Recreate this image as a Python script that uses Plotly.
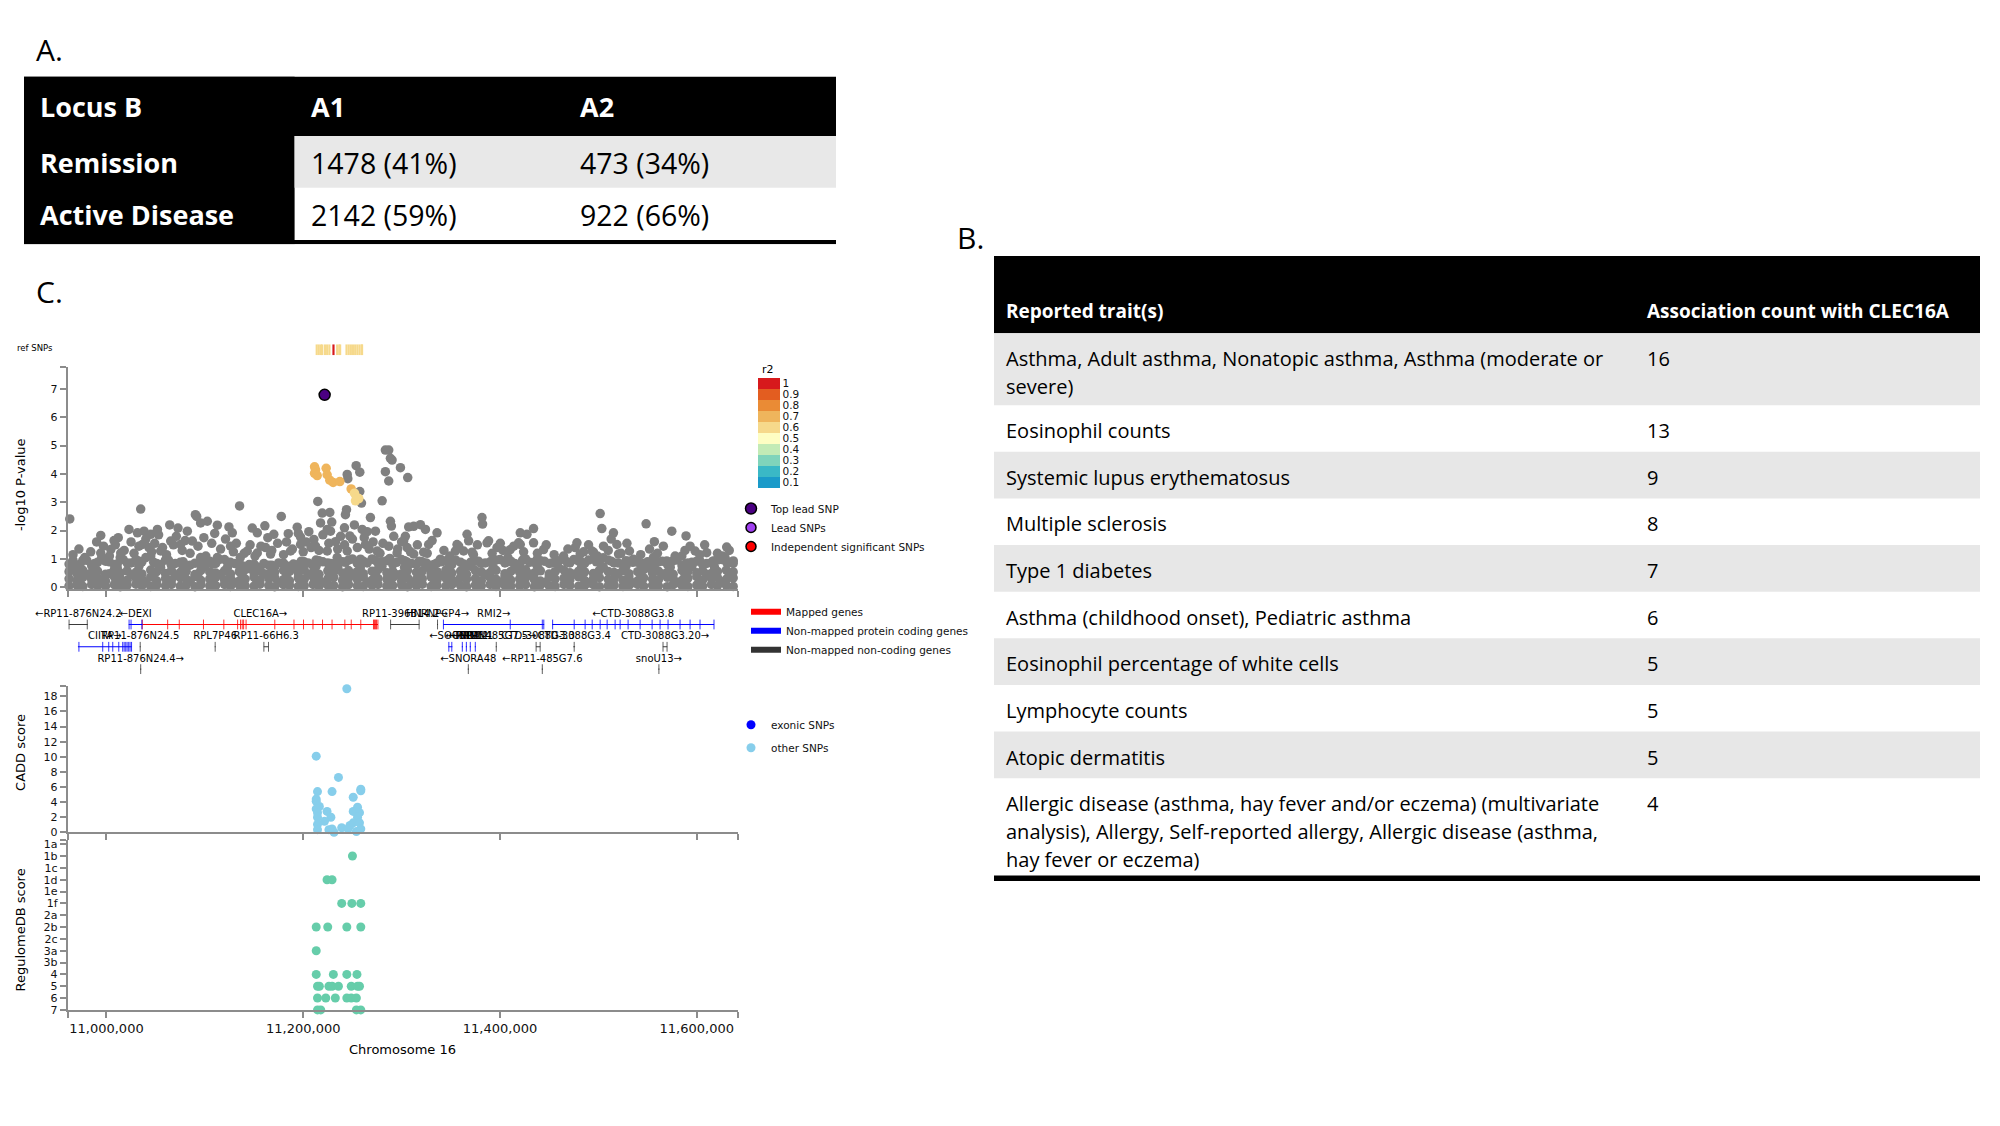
import plotly.graph_objects as go

W, H = 2000, 1126

# ---------------- Panel A table ----------------
tA_header = ["Locus B", "A1", "A2"]
tA_rowlab = ["Remission", "Active Disease"]
tA_a1 = ["1478 (41%)", "2142 (59%)"]
tA_a2 = ["473 (34%)", "922 (66%)"]

# ---------------- Panel B table ----------------
tB_header = ["Reported trait(s)", "Association count with CLEC16A"]
tB_traits = [
    "Asthma, Adult asthma, Nonatopic asthma, Asthma (moderate or<br>severe)",
    "Eosinophil counts",
    "Systemic lupus erythematosus",
    "Multiple sclerosis",
    "Type 1 diabetes",
    "Asthma (childhood onset), Pediatric asthma",
    "Eosinophil percentage of white cells",
    "Lymphocyte counts",
    "Atopic dermatitis",
    "Allergic disease (asthma, hay fever and/or eczema) (multivariate<br>analysis), Allergy, Self-reported allergy, Allergic disease (asthma,<br>hay fever or eczema)",
]
tB_counts = [16, 13, 9, 8, 7, 6, 5, 5, 5, 4]

# ---------------- Panel C: regional plot (positions in kb on chr16) ----------------
band_kb = [10962, 10970, 10976, 10985, 10991, 10999, 11008, 11014, 11021, 11030,
           11036, 11045, 11051, 11060, 11066, 11075, 11081, 11090, 11096, 11105,
           11111, 11120, 11126, 11135, 11141, 11150, 11156, 11165, 11171, 11180,
           11186, 11195, 11201, 11210, 11216, 11225, 11231, 11240, 11246, 11255,
           11261, 11270, 11276, 11285, 11291, 11300, 11306, 11315, 11321, 11330,
           11336, 11345, 11351, 11360, 11366, 11375, 11381, 11390, 11396, 11405,
           11411, 11420, 11426, 11435, 11441, 11450, 11456, 11465, 11471, 11480,
           11486, 11495, 11501, 11510, 11516, 11525, 11531, 11540, 11546, 11555,
           11561, 11570, 11576, 11585, 11591, 11600, 11606, 11615, 11621, 11630,
           11637]
band_low = [0.05, 0.08, 0.03, 0.10, 0.06, 0.04, 0.09, 0.02, 0.07, 0.11,
            0.05, 0.03, 0.08, 0.06, 0.10, 0.04, 0.07, 0.02, 0.09, 0.05,
            0.06, 0.10, 0.03, 0.08, 0.05, 0.04, 0.11, 0.06, 0.02, 0.09,
            0.07, 0.03, 0.05, 0.10, 0.04, 0.08, 0.06, 0.02, 0.09, 0.05,
            0.03, 0.07, 0.10, 0.04, 0.06, 0.08, 0.02, 0.05, 0.11, 0.03,
            0.07, 0.04, 0.09, 0.06, 0.02, 0.08, 0.05, 0.10, 0.03, 0.07,
            0.04, 0.06, 0.09, 0.02, 0.08, 0.05, 0.03, 0.10, 0.06, 0.04,
            0.07, 0.09, 0.02, 0.05, 0.08, 0.03, 0.06, 0.10, 0.04, 0.07,
            0.05, 0.02, 0.09, 0.06, 0.03, 0.08, 0.04, 0.10, 0.05, 0.07,
            0.03]
band_mid1 = [0.30, 0.24, 0.35, 0.27, 0.32, 0.22, 0.37, 0.29, 0.25, 0.33,
             0.28, 0.36, 0.23, 0.31, 0.26, 0.34, 0.29, 0.38, 0.24, 0.30,
             0.35, 0.27, 0.32, 0.22, 0.29, 0.36, 0.25, 0.31, 0.34, 0.27,
             0.23, 0.33, 0.28, 0.37, 0.26, 0.30, 0.35, 0.24, 0.32, 0.28,
             0.36, 0.25, 0.31, 0.29, 0.34, 0.22, 0.33, 0.27, 0.30, 0.37,
             0.26, 0.32, 0.24, 0.35, 0.29, 0.31, 0.23, 0.34, 0.28, 0.36,
             0.25, 0.30, 0.33, 0.27, 0.22, 0.35, 0.29, 0.32, 0.26, 0.37,
             0.24, 0.31, 0.34, 0.28, 0.30, 0.25, 0.36, 0.23, 0.33, 0.29,
             0.27, 0.35, 0.31, 0.24, 0.32, 0.38, 0.26, 0.30, 0.34, 0.28,
             0.33]
band_mid2 = [0.55, 0.48, 0.60, 0.52, 0.57, 0.46, 0.62, 0.50, 0.58, 0.53,
             0.47, 0.61, 0.55, 0.49, 0.59, 0.52, 0.56, 0.45, 0.60, 0.54,
             0.50, 0.58, 0.47, 0.55, 0.62, 0.51, 0.57, 0.48, 0.53, 0.60,
             0.56, 0.49, 0.61, 0.52, 0.46, 0.58, 0.54, 0.50, 0.59, 0.55,
             0.48, 0.57, 0.62, 0.51, 0.56, 0.47, 0.60, 0.53, 0.58, 0.49,
             0.55, 0.61, 0.50, 0.57, 0.46, 0.59, 0.54, 0.52, 0.60, 0.48,
             0.56, 0.53, 0.62, 0.50, 0.58, 0.47, 0.55, 0.61, 0.51, 0.57,
             0.54, 0.49, 0.60, 0.56, 0.52, 0.59, 0.48, 0.55, 0.62, 0.50,
             0.57, 0.53, 0.46, 0.60, 0.55, 0.51, 0.58, 0.49, 0.56, 0.61,
             0.54]
band_top = [0.82, 0.70, 0.95, 0.76, 0.88,
            0.92, 0.80, 1.05, 0.86, 0.98, 0.90, 1.10, 0.84, 0.96,
            0.78, 0.88, 0.72, 0.85, 0.80,
            0.92, 0.84, 0.98, 0.88, 0.76,
            0.70, 0.82, 0.66, 0.78, 0.72, 0.85, 0.74,
            0.80, 0.90, 0.76, 0.94, 0.86, 0.82, 0.90,
            0.96, 0.84, 0.92, 1.00, 0.86, 0.94, 0.80, 0.98, 0.88, 0.82,
            0.90, 0.78, 0.86, 0.94, 0.80, 0.88, 0.76, 0.92, 0.84, 0.90,
            0.96, 0.86, 0.92, 0.82, 1.00, 0.88, 0.94, 0.84, 0.90, 0.98, 0.86,
            0.92, 0.84, 1.02, 0.90, 0.96, 0.86, 0.80, 0.92, 0.88, 0.84,
            0.78, 0.90, 0.82, 0.94, 0.76, 0.86, 0.92, 0.80, 0.88,
            0.96, 0.90, 0.84]
band2_kb = [10966, 10973, 10980, 10988, 10995, 11003, 11011, 11017, 11025, 11033,
            11040, 11048, 11055, 11063, 11070, 11078, 11085, 11093, 11100, 11108,
            11115, 11123, 11130, 11138, 11145, 11153, 11160, 11168, 11175, 11183,
            11190, 11198, 11205, 11213, 11220, 11228, 11235, 11243, 11250, 11258,
            11265, 11273, 11280, 11288, 11295, 11303, 11310, 11318, 11325, 11333,
            11340, 11348, 11355, 11363, 11370, 11378, 11385, 11393, 11400, 11408,
            11415, 11423, 11430, 11438, 11445, 11453, 11460, 11468, 11475, 11483,
            11490, 11498, 11505, 11513, 11520, 11528, 11535, 11543, 11550, 11558,
            11565, 11573, 11580, 11588, 11595, 11603, 11610, 11618, 11625, 11633]
band2_p = [0.70, 0.18, 0.45, 0.72, 0.20, 0.48, 0.68, 0.16, 0.44, 0.74,
           0.19, 0.46, 0.71, 0.17, 0.43, 0.69, 0.21, 0.47, 0.73, 0.15,
           0.45, 0.70, 0.18, 0.42, 0.66, 0.20, 0.48, 0.72, 0.17, 0.44,
           0.70, 0.19, 0.46, 0.74, 0.16, 0.43, 0.71, 0.20, 0.47, 0.68,
           0.18, 0.45, 0.73, 0.15, 0.44, 0.70, 0.19, 0.48, 0.72, 0.17,
           0.42, 0.69, 0.21, 0.46, 0.74, 0.16, 0.45, 0.70, 0.18, 0.43,
           0.71, 0.20, 0.47, 0.73, 0.17, 0.44, 0.68, 0.19, 0.46, 0.72,
           0.15, 0.45, 0.70, 0.18, 0.48, 0.74, 0.16, 0.43, 0.69, 0.20,
           0.47, 0.71, 0.17, 0.44, 0.73, 0.19, 0.46, 0.70, 0.18, 0.45]
band2_top = [0.88, 0.80, 0.95, 0.84, 1.02, 0.90, 0.82, 0.98, 0.86, 0.92,
             1.05, 0.88, 0.80, 0.96, 0.84, 0.90, 0.78, 0.86, 0.94, 0.82,
             0.98, 0.88, 0.84, 0.76, 0.80, 0.72, 0.84, 0.78, 0.86, 0.74,
             0.82, 0.92, 0.86, 0.96, 0.90, 0.84, 0.94, 0.88, 1.00, 0.92,
             0.86, 0.96, 0.90, 1.02, 0.88, 0.94, 0.84, 0.92, 0.86, 0.80,
             0.90, 0.84, 0.96, 0.82, 0.88, 0.92, 0.86, 0.94, 0.98, 0.90,
             0.84, 0.96, 0.88, 1.00, 0.92, 0.86, 0.94, 0.90, 0.98, 0.88,
             0.96, 0.90, 1.04, 0.92, 0.86, 0.94, 0.88, 0.82, 0.90, 0.84,
             0.92, 0.86, 0.96, 0.80, 0.88, 0.94, 0.84, 0.92, 0.98, 0.88]
upper_kb = [10994.2, 11004.4, 11014.5, 11036.5, 11043.2, 11055.1, 11065.3, 11075.4, 11087.3, 11095.7,
            11112.7, 11126.2, 11143.1, 11153.3, 11161.7, 11166.8, 11187.1, 11197.3, 11210.8, 11212.5,
            11224.4, 11234.5, 11244.7, 11258.2, 11275.1, 11286.9, 11295.4, 11305.6, 11312.3, 11322.4,
            11339.4, 11354.6, 11371.6, 11386.8, 11397.0, 11410.4, 11420.6, 11434.1, 11444.3, 11464.6,
            11481.5, 11495.0, 11505.2, 11518.8, 11520.5, 11535.6, 11555.9, 11569.5, 11584.8, 11593.2,
            11598.3, 11616.8, 11628.7, 11637.1, 10966.0,
            10966, 10972, 10978, 10984, 10990, 10997, 11003, 11009, 11012, 11018,
            11025, 11028, 11033, 11040, 11046, 11049, 11053, 11057, 11061, 11068,
            11071, 11077, 11080, 11085, 11093, 11099, 11101, 11107, 11110, 11116,
            11121, 11129, 11132, 11136, 11140, 11146, 11151, 11157, 11164, 11168,
            11174, 11180, 11183, 11189, 11195, 11200, 11203, 11208, 11216, 11220,
            11226, 11229, 11235, 11238, 11242, 11250, 11252, 11255, 11262, 11267,
            11271, 11278, 11281, 11292, 11296, 11300, 11309, 11316, 11326, 11331,
            11343, 11349, 11358, 11373, 11377, 11392, 11403, 11408, 11414, 11424,
            11438, 11447, 11455, 11469, 11485, 11490, 11499, 11510, 11513, 11523,
            11529, 11543, 11552, 11560, 11566, 11578, 11588, 11603, 11608, 11621,
            11633, 11626]
upper_p = [1.21, 1.33, 1.21, 1.51, 1.40, 1.28, 1.63, 1.51, 1.63, 1.05,
           1.05, 1.45, 1.28, 1.21, 1.40, 1.17, 1.28, 1.51, 1.69, 1.45,
           1.28, 1.05, 1.28, 0.99, 1.28, 1.45, 1.21, 1.40, 1.17, 1.24,
           0.99, 1.28, 1.24, 1.57, 1.40, 1.33, 1.51, 1.57, 1.33, 1.10,
           1.17, 1.24, 1.45, 1.51, 1.17, 0.99, 1.05, 0.93, 1.10, 1.45,
           1.28, 0.93, 1.05, 0.93, 0.95,
           1.15, 1.35, 1.05, 1.25, 1.60, 1.45, 1.10, 1.50, 1.75, 1.30,
           1.60, 1.20, 1.45, 1.70, 1.25, 1.55, 1.85, 1.40, 1.15, 1.50,
           1.80, 1.30, 1.65, 1.20, 1.45, 1.75, 1.10, 1.55, 1.90, 1.35,
           1.70, 1.25, 1.55, 1.05, 1.20, 1.50, 1.10, 1.45, 1.75, 1.30,
           1.55, 1.15, 1.60, 1.35, 1.90, 1.25, 1.60, 1.40, 1.30, 1.85,
           1.55, 2.30, 1.35, 1.80, 1.50, 1.70, 2.20, 1.40, 1.75, 1.35,
           1.60, 1.20, 1.55, 1.80, 1.35, 1.60, 1.25, 1.50, 1.20, 1.65,
           1.30, 1.10, 1.45, 1.15, 1.50, 1.20, 1.30, 1.05, 1.45, 1.25,
           1.20, 1.50, 1.15, 1.35, 1.25, 1.50, 1.10, 1.30, 1.70, 1.20,
           1.55, 1.15, 1.35, 1.20, 1.45, 1.10, 1.30, 1.15, 1.50, 1.20,
           1.30, 1.10]
scat_kb = [10962.7, 11034.8, 11135.3, 11090.4, 11091.7, 10994.2, 11007.7, 11022.9, 11031.5, 11038.2,
           11045.0, 11051.8, 11064.3, 11072.7, 11082.2, 11095.7, 11102.5, 11112.7, 11124.5, 11127.9,
           11148.2, 11153.3, 11161.0, 11170.1, 11177.7, 11184.8, 11193.9, 11197.3, 11205.7, 11214.8,
           11219.3, 11227.0, 11217.6, 11224.4, 11227.7, 11244.7, 11245.3, 11253.8, 11257.5, 11257.5,
           11259.2, 11244.0, 11242.9, 11241.9, 11247.3, 11232.8, 11268.3, 11280.2, 11283.5, 11286.9,
           11288.6, 11290.3, 11283.5, 11286.9, 11298.8, 11306.2, 11288.6, 11289.6, 11259.9, 11265.0,
           11273.4, 11263.2, 11307.2, 11302.1, 11319.1, 11312.3, 11324.2, 11303.8, 11336.0, 11327.5,
           11381.7, 11382.3, 11366.5, 11368.1, 11420.6, 11427.4, 11434.1, 11418.9, 11501.8, 11503.5,
           11515.3, 11531.6, 11548.5, 11556.9, 11574.6, 11589.1, 11630.4, 11388.4, 11400.3, 11478.2,
           11476.4, 11356.3, 11363.0, 11493.4, 11610.1]
scat_p = [2.41, 2.76, 2.87, 2.56, 2.50, 1.83, 1.65, 2.04, 1.92, 1.98,
          1.87, 2.04, 2.20, 2.09, 1.98, 2.27, 2.33, 2.19, 2.13, 1.92,
          2.09, 1.92, 2.17, 1.87, 2.50, 1.89, 2.12, 1.77, 1.96, 3.03,
          2.62, 2.64, 2.27, 2.04, 1.98, 3.98, 3.83, 4.29, 4.06, 3.38,
          2.97, 2.74, 2.56, 2.10, 1.81, 1.61, 2.46, 3.05, 4.84, 4.84,
          4.55, 4.49, 4.08, 3.75, 4.22, 3.87, 2.33, 2.16, 2.04, 1.96,
          1.98, 1.51, 2.13, 1.64, 2.21, 2.15, 2.04, 1.80, 1.92, 1.51,
          2.46, 2.23, 1.87, 1.64, 1.92, 1.87, 2.07, 1.57, 2.60, 2.07,
          1.92, 1.28, 2.24, 1.61, 1.98, 1.81, 1.42, 1.64, 1.55, 1.57,
          1.40, 1.51, 1.28, 1.28, 1.22]
ld_kb = [11211.5, 11212.5, 11211.5, 11214.2, 11223.3, 11224.3, 11227.0, 11230.4, 11237.2, 11248.7,
         11252.1, 11254.1, 11253.1, 11256.5]
ld_p = [4.25, 4.14, 4.02, 3.94, 4.20, 3.97, 3.78, 3.70, 3.73, 3.47, 3.32, 3.17, 3.05, 3.13]
ld_r2 = [0.66, 0.67, 0.66, 0.68, 0.70, 0.69, 0.71, 0.70, 0.69, 0.66, 0.64, 0.63, 0.62, 0.64]
lead_kb = [11221.75]
lead_p = [6.79]

r2_levels = [0.1, 0.2, 0.3, 0.4, 0.5, 0.6, 0.7, 0.8, 0.9, 1.0]
r2_labels = ["0.1", "0.2", "0.3", "0.4", "0.5", "0.6", "0.7", "0.8", "0.9", "1"]
r2_colors = ["#1a9ac9", "#3ab8c6", "#80d4bb", "#c3ebb6", "#fefec3",
             "#f6d98b", "#efb55c", "#ea8b35", "#e35d20", "#d7191c"]

ref_kb = [11213.7, 11215.8, 11218.0, 11219.3, 11222.1, 11224.3, 11226.6, 11230.75, 11234.5, 11236.6,
          11237.5, 11244.0, 11246.2, 11248.4, 11250.6, 11252.8, 11255.0, 11257.2, 11259.4, 11259.8]
ref_r2 = [0.6, 0.6, 0.6, 0.6, 0.6, 0.6, 0.6, 1.0, 0.6, 0.6,
          0.6, 0.6, 0.6, 0.6, 0.6, 0.6, 0.6, 0.6, 0.6, 0.6]

cadd_kb = [11244.3, 11213.2, 11235.8, 11214.5, 11229.3, 11258.5, 11258.5, 11250.8, 11213.2, 11213.2,
           11216.4, 11255.2, 11213.2, 11214.5, 11250.8, 11257.2, 11224.2, 11228.1, 11214.5, 11221.6,
           11255.2, 11250.8, 11257.2, 11247.5, 11214.5, 11239.1, 11229.3, 11231.3, 11245.6, 11214.5,
           11254.0, 11258.5, 11226.1]
cadd_score = [19.0, 10.08, 7.27, 5.39, 5.39, 5.5, 5.7, 4.64, 4.4, 4.1,
              3.42, 3.33, 3.1, 2.6, 2.77, 2.6, 2.77, 2.0, 2.0, 1.45,
              2.0, 1.25, 1.25, 0.9, 1.05, 0.6, 0.45, 0.0, 0.45, 0.35,
              0.1, 0.45, 0.35]

reg_levels = ["1a", "1b", "1c", "1d", "1e", "1f", "2a", "2b", "2c", "3a", "3b", "4", "5", "6", "7"]
reg_kb = [11250.0, 11224.2, 11229.3, 11239.1, 11249.4, 11258.5, 11213.2, 11224.9, 11244.3, 11258.5,
          11213.2, 11213.2, 11230.6, 11244.3, 11254.6, 11214.5, 11216.4, 11226.1, 11229.3, 11235.8,
          11248.8, 11255.2, 11257.2, 11214.5, 11222.9, 11232.6, 11244.3, 11248.8, 11254.0, 11214.5,
          11217.8, 11254.0, 11258.5]
reg_cat = ["1b", "1d", "1d", "1f", "1f", "1f", "2b", "2b", "2b", "2b",
           "3a", "4", "4", "4", "4", "5", "5", "5", "5", "5",
           "5", "5", "5", "6", "6", "6", "6", "6", "6", "7",
           "7", "7", "7"]

# genes
gene_name = ["RP11-876N24.2", "DEXI", "CLEC16A", "RP11-396B14.2", "HNRNPCP4", "RMI2", "CTD-3088G3.8",
             "CIITA", "RP11-876N24.5", "RPL7P46", "RP11-66H6.3", "SOCS1", "TNP2", "PRM3", "PRM2", "PRM1",
             "RP11-485G7.5", "CTD-3088G3.3", "CTD-3088G3.4", "CTD-3088G3.20",
             "RP11-876N24.4", "SNORA48", "RP11-485G7.6", "snoU13"]
gene_start = [10961.7, 11022.6, 11036.8, 11288.6, 11336.0, 11342.4, 11453.1,
              10971.0, 11033.8, 11110.0, 11159.8, 11347.5, 11361.2, 11365.3, 11369.3, 11374.4,
              11395.7, 11436.5, 11474.5, 11565.5,
              11034.3, 11367.3, 11442.5, 11561.0]
gene_end = [10981.0, 11036.8, 11276.0, 11318.1, 11337.0, 11444.9, 11617.6,
            11025.7, 11034.8, 11111.0, 11164.9, 11351.6, 11362.2, 11366.3, 11370.3, 11375.4,
            11396.7, 11441.0, 11476.3, 11570.0,
            11035.3, 11368.3, 11443.5, 11562.0]
gene_row = [0, 0, 0, 0, 0, 0, 0,
            1, 1, 1, 1, 1, 1, 1, 1, 1, 1, 1, 1, 1,
            2, 2, 2, 2]
gene_kind = ["nc", "pc", "mapped", "nc", "nc", "pc", "pc",
             "pc", "nc", "nc", "nc", "pc", "pc", "pc", "pc", "pc", "nc", "nc", "nc", "nc",
             "nc", "nc", "nc", "nc"]
gene_strand = ["-", "-", "+", "+", "+", "+", "-",
               "+", "", "", "", "-", "-", "-", "-", "-", "+", "", "", "+",
               "+", "-", "-", "+"]
gene_exons = [
    [10962.0, 10980.5],
    [11023.0, 11025.0, 11036.0],
    [11036.4, 11062.2, 11074.0, 11098.6, 11119.3, 11133.3, 11136.3, 11138.0, 11139.4, 11141.9,
     11171.1, 11190.6, 11200.3, 11209.9, 11219.6, 11229.3, 11242.3, 11248.8, 11258.5,
     11271.4, 11272.4, 11273.4, 11274.5, 11275.9],
    [11288.8, 11317.8],
    [11336.5],
    [11342.5, 11410.4, 11443.0, 11444.5],
    [11453.5, 11475.4, 11486.5, 11493.7, 11501.8, 11508.9, 11517.0, 11522.1, 11530.2, 11542.4,
     11554.6, 11562.7, 11570.8, 11583.0, 11593.2, 11603.3, 11617.5],
    [10972.0, 10996.2, 11002.3, 11006.4, 11012.5, 11016.5, 11018.0, 11019.6, 11021.0, 11022.6,
     11024.0, 11025.5],
    [11034.3],
    [11110.5],
    [11160.0, 11164.7],
    [11348.0, 11351.0],
    [11361.7],
    [11365.8],
    [11369.8],
    [11374.9],
    [11396.2],
    [11436.7, 11440.8],
    [11475.4],
    [11565.7, 11569.8],
    [11034.8],
    [11367.8],
    [11443.0],
    [11561.5],
]

# ---------------- geometry helpers (layout only) ----------------
def xd(a, b):
    return [a / W, b / W]


def yd(top, bot):
    return [1 - bot / H, 1 - top / H]


X0, X1 = 10960400, 11641900
XT = [X0, 11000000, 11200000, 11400000, 11600000, X1]
GRAY_AX = "#8c8c8c"
FONT = "DejaVu Sans"
TFONT = "Open Sans"


def bp(lst):
    return [v * 1000 for v in lst]


axis_style = dict(showline=True, linecolor=GRAY_AX, linewidth=1.5, ticks="outside", ticklen=6,
                  tickcolor=GRAY_AX, tickwidth=1.5, showgrid=False, zeroline=False,
                  tickfont=dict(family=FONT, size=11, color="#111"))

fig = go.Figure()

# discrete r2 colour scale
cs = []
for i, c in enumerate(r2_colors):
    cs.append([i / 10, c])
    cs.append([(i + 1) / 10, c])

# ---- Manhattan ----
gray_x = bp(band_kb * 4 + band2_kb * 2 + upper_kb + scat_kb)
gray_y = band_low + band_mid1 + band_mid2 + band_top + band2_p + band2_top + upper_p + scat_p
fig.add_trace(go.Scatter(x=gray_x, y=gray_y, mode="markers", xaxis="x", yaxis="y",
                         marker=dict(size=9.5, color="#808080"), showlegend=False,
                         cliponaxis=False, hoverinfo="skip"))
fig.add_trace(go.Scatter(
    x=bp(ld_kb), y=ld_p, mode="markers", xaxis="x", yaxis="y", showlegend=False, cliponaxis=False,
    marker=dict(size=9.5, color=ld_r2, colorscale=cs, cmin=0.05, cmax=1.05,
                colorbar=dict(x=758 / W, xanchor="left", y=1 - 379 / H, yanchor="top",
                              len=111 / H, lenmode="fraction", thickness=22, thicknessmode="pixels",
                              xpad=0, ypad=0, outlinewidth=0, ticks="",
                              tickvals=r2_levels, ticktext=r2_labels,
                              tickfont=dict(family=FONT, size=10.5, color="#111")))))
fig.add_trace(go.Scatter(x=bp(lead_kb), y=lead_p, mode="markers", xaxis="x", yaxis="y",
                         name="Top lead SNP", legend="legend", cliponaxis=False,
                         marker=dict(size=11, color="#4b0082", line=dict(color="#000", width=1.5))))
fig.add_trace(go.Scatter(x=[None], y=[None], mode="markers", xaxis="x", yaxis="y",
                         name="Lead SNPs", legend="legend",
                         marker=dict(size=10, color="#a040f0", line=dict(color="#000", width=1.5))))
fig.add_trace(go.Scatter(x=[None], y=[None], mode="markers", xaxis="x", yaxis="y",
                         name="Independent significant SNPs", legend="legend",
                         marker=dict(size=10, color="#ff0000", line=dict(color="#000", width=1.5))))

# ---- ref SNP track ----
fig.add_trace(go.Bar(x=bp(ref_kb), y=[1] * len(ref_kb), width=2200, xaxis="x2", yaxis="y2",
                     marker=dict(color=ref_r2, colorscale=cs, cmin=0.05, cmax=1.05, line=dict(width=0)),
                     showlegend=False, hoverinfo="skip"))

# ---- gene track ----
kind_color = {"mapped": "#ff0000", "pc": "#0000ff", "nc": "#3a3a3a"}
kind_name = {"mapped": "Mapped genes", "pc": "Non-mapped protein coding genes", "nc": "Non-mapped non-coding genes"}
for kind in ["mapped", "pc", "nc"]:
    lx, ly, ex, ey = [], [], [], []
    for i in range(len(gene_name)):
        if gene_kind[i] != kind:
            continue
        lx += [gene_start[i] * 1000, gene_end[i] * 1000, None]
        ly += [gene_row[i], gene_row[i], None]
        for e in gene_exons[i]:
            ex.append(e * 1000)
            ey.append(gene_row[i])
    fig.add_trace(go.Scatter(x=lx, y=ly, mode="lines", xaxis="x3", yaxis="y3",
                             line=dict(color=kind_color[kind], width=1.1), showlegend=False, hoverinfo="skip"))
    fig.add_trace(go.Scatter(x=ex, y=ey, mode="markers", xaxis="x3", yaxis="y3", showlegend=False,
                             marker=dict(symbol="line-ns", size=7, opacity=0.8,
                                         line=dict(color=kind_color[kind], width=1)),
                             hoverinfo="skip"))
labels = []
for i in range(len(gene_name)):
    if gene_strand[i] == "+":
        labels.append(gene_name[i] + "→")
    elif gene_strand[i] == "-":
        labels.append("←" + gene_name[i])
    else:
        labels.append(gene_name[i])
fig.add_trace(go.Scatter(x=[(s + e) * 500 for s, e in zip(gene_start, gene_end)],
                         y=[r - 0.45 for r in gene_row], mode="text", text=labels,
                         textposition="middle center", xaxis="x3", yaxis="y3", showlegend=False,
                         textfont=dict(family=FONT, size=10, color="#000"), cliponaxis=False, hoverinfo="skip"))
for kind in ["mapped", "pc", "nc"]:
    fig.add_trace(go.Scatter(x=[None], y=[None], mode="lines", xaxis="x3", yaxis="y3",
                             name=kind_name[kind], legend="legend2",
                             line=dict(color=kind_color[kind] if kind != "nc" else "#333333", width=6)))

# ---- CADD ----
fig.add_trace(go.Scatter(x=[None], y=[None], mode="markers", xaxis="x4", yaxis="y4",
                         name="exonic SNPs", legend="legend3", legendgroup="ex",
                         marker=dict(size=9, color="#0000ff")))
fig.add_trace(go.Scatter(x=bp(cadd_kb), y=cadd_score, mode="markers", xaxis="x4", yaxis="y4",
                         name="other SNPs", legend="legend3", legendgroup="oth", cliponaxis=False,
                         marker=dict(size=9, color="#87ceeb")))

# ---- RegulomeDB ----
fig.add_trace(go.Scatter(x=bp(reg_kb), y=[reg_levels.index(c) for c in reg_cat], mode="markers",
                         xaxis="x5", yaxis="y5", showlegend=False, cliponaxis=False,
                         marker=dict(size=9, color="#66cdaa")))

# ---------------- tables (drawn on their own pixel-unit axes) ----------------
shapes = []
ann = []

# Table A
tA_colx = [0, 270.6, 812]
tA_textx = [15.5, 286.6, 556.4]
tA_rowh = [60, 52.3, 52.7]
tA_line = 4.3
tA_tot = sum(tA_rowh) + tA_line
shapes.append(dict(type="rect", xref="x6", yref="y6", x0=0, x1=812, y0=0, y1=tA_rowh[0],
                   fillcolor="#000", line=dict(width=0)))
shapes.append(dict(type="rect", xref="x6", yref="y6", x0=0, x1=tA_colx[1], y0=0, y1=tA_tot,
                   fillcolor="#000", line=dict(width=0)))
shapes.append(dict(type="rect", xref="x6", yref="y6", x0=tA_colx[1], x1=812, y0=tA_rowh[0],
                   y1=tA_rowh[0] + tA_rowh[1], fillcolor="#e8e8e8", line=dict(width=0)))
shapes.append(dict(type="rect", xref="x6", yref="y6", x0=0, x1=812, y0=tA_tot - tA_line, y1=tA_tot,
                   fillcolor="#000", line=dict(width=0)))
for j, t in enumerate(tA_header):
    ann.append(dict(xref="x6", yref="y6", x=tA_textx[j] - 2, y=tA_rowh[0] / 2 + 0.5, text="<b>%s</b>" % t,
                    showarrow=False, xanchor="left", yanchor="middle",
                    font=dict(family=TFONT, size=27, color="#fff")))
ytop = tA_rowh[0]
for i in range(2):
    yc = ytop + tA_rowh[i + 1] / 2 + 1
    ann.append(dict(xref="x6", yref="y6", x=tA_textx[0] - 2, y=yc, text="<b>%s</b>" % tA_rowlab[i],
                    showarrow=False, xanchor="left", yanchor="middle",
                    font=dict(family=TFONT, size=27, color="#fff")))
    for j, v in enumerate([tA_a1[i], tA_a2[i]]):
        ann.append(dict(xref="x6", yref="y6", x=tA_textx[j + 1] - 2, y=yc, text=v,
                        showarrow=False, xanchor="left", yanchor="middle",
                        font=dict(family=TFONT, size=28.5, color="#000")))
    ytop += tA_rowh[i + 1]

# Table B
tB_x0 = 994
tB_w = 986
tB_hdr = 78
tB_textx = [10, 651]
tB_line = 5.5
tB_lh = 28
shapes.append(dict(type="rect", xref="x7", yref="y7", x0=0, x1=tB_w, y0=0, y1=tB_hdr,
                   fillcolor="#000", line=dict(width=0)))
for j, t in enumerate(tB_header):
    ann.append(dict(xref="x7", yref="y7", x=tB_textx[j], y=55.7, text="<b>%s</b>" % t,
                    showarrow=False, xanchor="left", yanchor="middle",
                    font=dict(family=TFONT, size=19, color="#fff")))
ytop = tB_hdr
for i, t in enumerate(tB_traits):
    lines = t.split("<br>")
    h = 47 + (len(lines) - 1) * 25.5
    if i % 2 == 0:
        shapes.append(dict(type="rect", xref="x7", yref="y7", x0=0, x1=tB_w, y0=ytop, y1=ytop + h,
                           fillcolor="#e7e7e7", line=dict(width=0)))
    for k, ln in enumerate(lines):
        ann.append(dict(xref="x7", yref="y7", x=tB_textx[0], y=ytop + 10 + k * tB_lh, text=ln,
                        showarrow=False, xanchor="left", yanchor="top", align="left",
                        font=dict(family=TFONT, size=20, color="#000")))
    ann.append(dict(xref="x7", yref="y7", x=tB_textx[1], y=ytop + 10, text=str(tB_counts[i]),
                    showarrow=False, xanchor="left", yanchor="top", align="left",
                    font=dict(family=TFONT, size=20, color="#000")))
    ytop += h
shapes.append(dict(type="rect", xref="x7", yref="y7", x0=0, x1=tB_w, y0=ytop, y1=ytop + tB_line,
                   fillcolor="#000", line=dict(width=0)))
tB_tot = ytop + tB_line

# ---------------- free text ----------------
def ptxt(x, y, text, size, family=TFONT, angle=0, xanchor="left"):
    return dict(xref="paper", yref="paper", x=x / W, y=1 - y / H, text=text, showarrow=False,
                xanchor=xanchor, yanchor="middle", textangle=angle,
                font=dict(family=family, size=size, color="#000"))


ann.append(ptxt(34, 48, "A.", 30))
ann.append(ptxt(955, 237, "B.", 30))
ann.append(ptxt(34, 292, "C.", 30))
ann.append(ptxt(15, 349, "ref SNPs", 8.5, family=FONT))
ann.append(ptxt(768, 370, "r2", 11, family=FONT, xanchor="center"))
ann.append(ptxt(20, 487, "-log10 P-value", 13, family=FONT, angle=-90, xanchor="center"))
ann.append(ptxt(21, 757, "CADD score", 13, family=FONT, angle=-90, xanchor="center"))
ann.append(ptxt(21, 936, "RegulomeDB score", 13, family=FONT, angle=-90, xanchor="center"))
ann.append(ptxt(402, 1056, "Chromosome 16", 13, family=FONT, xanchor="center"))

PX0, PX1 = 67.5, 738
leg_common = dict(xanchor="left", yanchor="top", bgcolor="rgba(0,0,0,0)", borderwidth=0,
                  font=dict(family=FONT, size=10.5, color="#111"), itemclick=False, itemdoubleclick=False)

fig.update_layout(
    width=W, height=H, margin=dict(l=0, r=0, t=0, b=0), autosize=False,
    paper_bgcolor="#fff", plot_bgcolor="rgba(0,0,0,0)",
    shapes=shapes, annotations=ann, hovermode=False,
    xaxis=dict(domain=xd(PX0, PX1), range=[X0, X1], anchor="y", tickvals=XT, ticktext=[""] * 6, **axis_style),
    yaxis=dict(domain=yd(368, 592), range=[-0.07, 7.77], anchor="x",
               tickvals=[0, 1, 2, 3, 4, 5, 6, 7, 7.77], ticktext=["0", "1", "2", "3", "4", "5", "6", "7", ""],
               **axis_style),
    xaxis2=dict(domain=xd(PX0, PX1), matches="x", anchor="y2", visible=False),
    yaxis2=dict(domain=yd(345, 356), range=[0, 1], anchor="x2", visible=False),
    xaxis3=dict(domain=xd(PX0, PX1), matches="x", anchor="y3", visible=False),
    yaxis3=dict(domain=yd(605.5, 685.5), range=[2.578, -0.978], anchor="x3", visible=False),
    xaxis4=dict(domain=xd(PX0, PX1), matches="x", anchor="y4", tickvals=XT, ticktext=[""] * 6, **axis_style),
    yaxis4=dict(domain=yd(690, 837), range=[0, 19.3], anchor="x4",
                tickvals=[0, 2, 4, 6, 8, 10, 12, 14, 16, 18, 19.3],
                ticktext=["0", "2", "4", "6", "8", "10", "12", "14", "16", "18", ""], **axis_style),
    xaxis5=dict(domain=xd(PX0, PX1), matches="x", anchor="y5", tickvals=XT,
                ticktext=["", "11,000,000", "11,200,000", "11,400,000", "11,600,000", ""],
                **{**axis_style, "tickfont": dict(family=FONT, size=13, color="#111")}),
    yaxis5=dict(domain=yd(845, 1016), range=[14, -0.335], anchor="x5",
                tickvals=list(range(len(reg_levels))) + [-0.335], ticktext=reg_levels + [""], **axis_style),
    xaxis6=dict(domain=xd(24, 836), range=[0, 812], anchor="y6", visible=False),
    yaxis6=dict(domain=yd(75, 75 + tA_tot), range=[tA_tot, 0], anchor="x6", visible=False),
    xaxis7=dict(domain=xd(tB_x0, tB_x0 + tB_w), range=[0, tB_w], anchor="y7", visible=False),
    yaxis7=dict(domain=yd(256, 256 + tB_tot), range=[tB_tot, 0], anchor="x7", visible=False),
    legend=dict(x=731 / W, y=1 - 496 / H, **leg_common),
    legend2=dict(x=746 / W, y=1 - 600 / H, **leg_common),
    legend3=dict(x=731 / W, y=1 - 714 / H, tracegroupgap=4, **leg_common),
    showlegend=True,
)

fig.write_html("out.html", config={"displayModeBar": False},
               post_script="document.body.style.margin='0';")
